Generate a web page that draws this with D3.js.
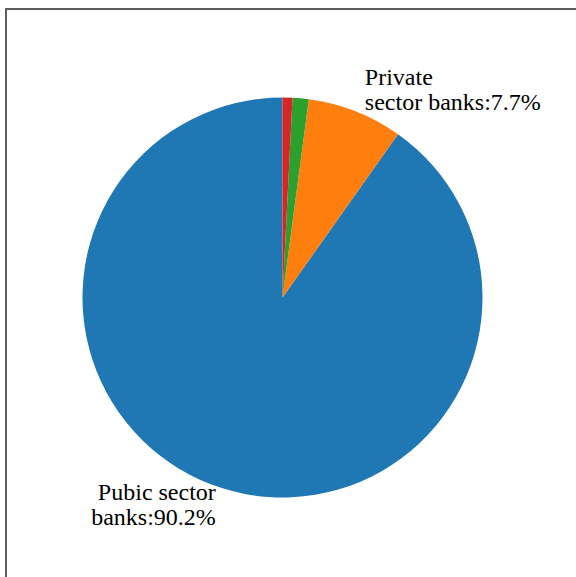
<!DOCTYPE html>
<html><head><meta charset="utf-8">
<script src="https://cdn.jsdelivr.net/npm/d3@7"></script>
<style>html,body{margin:0;padding:0;background:#fff;}svg{display:block;}</style>
</head><body>
<script>
const categories = ["Pubic sector banks", "Private sector banks", "Foreign banks", "Others"];
const values = [90.2, 7.7, 1.3, 0.8];
const labels = ["Pubic sector\nbanks:90.2%", "Private\nsector banks:7.7%", "", ""];
const colors = ["#1f77b4", "#ff7f0e", "#2ca02c", "#d62728"];

const W = 576, H = 577;
const cx = 282.5, cy = 297.5, r = 200;
const svg = d3.select("body").append("svg").attr("width", W).attr("height", H);

// frame (top and left spines)
svg.append("line").attr("x1", 6).attr("x2", W).attr("y1", 9).attr("y2", 9)
  .attr("stroke", "#5e5e5e").attr("stroke-width", 2);
svg.append("line").attr("x1", 6).attr("x2", 6).attr("y1", 8).attr("y2", H)
  .attr("stroke", "#5e5e5e").attr("stroke-width", 2);

const data = categories.map((c, i) => ({cat: c, value: values[i], label: labels[i], color: colors[i]}));
const pie = d3.pie().value(d => d.value).sort(null).startAngle(0).endAngle(-2 * Math.PI);
const arcs = pie(data);
const arc = d3.arc().innerRadius(0).outerRadius(r);
const g = svg.append("g").attr("transform", `translate(${cx},${cy})`);
g.selectAll("path").data(arcs).join("path")
  .attr("d", arc).attr("fill", d => d.data.color);

const lineH = 25;
arcs.forEach(a => {
  if (!a.data.label) return;
  const mid = (a.startAngle + a.endAngle) / 2;
  const x = Math.sin(mid) * r * 1.1 + (Math.sin(mid) < 0 ? 0 : 2);
  const y = -Math.cos(mid) * r * 1.1;
  const lines = a.data.label.split("\n");
  const t = g.append("text")
    .attr("font-family", "'Liberation Serif', 'Times New Roman', serif")
    .attr("font-size", 24).attr("fill", "#000")
    .attr("text-anchor", Math.sin(mid) < 0 ? "end" : "start");
  const n = lines.length;
  lines.forEach((l, i) => {
    t.append("tspan").attr("x", x)
      .attr("y", y + (i - (n - 1) / 2) * lineH + 5)
      .text(l);
  });
});
</script>
</body></html>
